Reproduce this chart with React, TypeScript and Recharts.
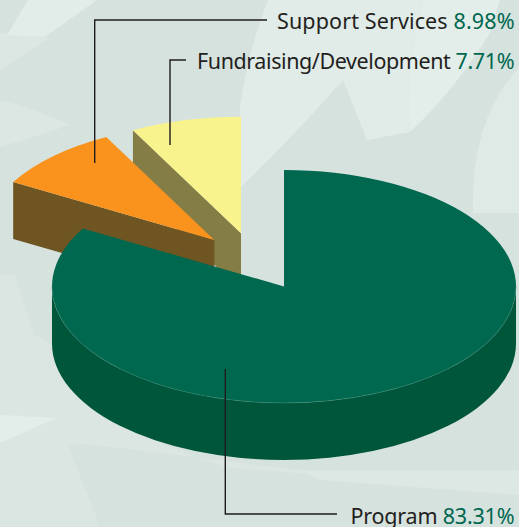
import { PieChart, Pie, Cell } from 'recharts'

const categories = ['Fundraising/Development', 'Support Services', 'Program']
const shares = [7.71, 8.98, 83.31]
const topColors = ['#f9f38e', '#f9931e', '#00684f']
const sideColors = ['#857d46', '#6f5522', '#00563a']
// how far each wedge is pulled out of the pie
const offsets = [[-43, -53.2], [-69.7, -46.5], [0, 0]]

const SQUASH = 0.502
const DEPTH = 57
const RAD = Math.PI / 180

const data = categories.map((name, i) => ({ name, value: shares[i], idx: i }))

function Wedge(props: any) {
  const { cx, cy, outerRadius: r, startAngle, endAngle, payload } = props
  const idx = payload.idx
  const [dx, dy] = offsets[idx]
  const ox = cx + dx
  const oy = cy + dy
  const ry = r * SQUASH
  const pt = (a: number) => [ox + r * Math.cos(a * RAD), oy - ry * Math.sin(a * RAD)]
  const [x0, y0] = pt(startAngle)
  const [x1, y1] = pt(endAngle)
  const large = Math.abs(endAngle - startAngle) > 180 ? 1 : 0
  const top = `M${ox},${oy} L${x0},${y0} A${r},${ry} 0 ${large} 0 ${x1},${y1} Z`

  if (idx === 2) {
    // big slice: front wall from left rim to right rim, with a faint rim line
    const rim = `M${cx - r},${cy} A${r},${ry} 0 0 0 ${cx + r},${cy}`
    const wall = `${rim} L${cx + r},${cy + DEPTH} A${r},${ry} 0 0 1 ${cx - r},${cy + DEPTH} Z`
    return (
      <g>
        <path d={wall} fill={sideColors[idx]} />
        <path d={top} fill={topColors[idx]} />
        <path d={rim} fill="none" stroke="#3f8a72" strokeWidth={0.5} />
      </g>
    )
  }
  // small wedges only show the cut face on their far end
  const face = `M${ox},${oy} L${x1},${y1} L${x1},${y1 + DEPTH} L${ox},${oy + DEPTH} Z`
  return (
    <g>
      <path d={face} fill={sideColors[idx]} />
      <path d={top} fill={topColors[idx]} />
    </g>
  )
}

function Background() {
  return (
    <svg width={519} height={527} style={{ position: 'absolute', left: 0, top: 0 }}>
      <rect width={519} height={527} fill="#d6e2de" />
      <path d="M0,100 Q40,110 70,125 Q40,135 0,147 Z" fill="#dce7e3" />
      <path d="M0,33 L50,38 L0,70 Z" fill="#dce7e3" />
      <path d="M7,35 L28,0 L97,0 L45,37 Z" fill="#e2ece8" />
      <path d="M240,107 Q248,50 268,0 L423,0 Q405,70 410,132 L367,140 L343,80 Q290,140 241,187 Z" fill="#e1ebe7" />
      <path d="M423,0 Q405,70 410,132 Q455,90 490,33 L500,0 Z" fill="#e3ede9" />
      <path d="M473,213 Q470,120 519,67 L519,213 Z" fill="#dfe9e5" />
      <path d="M0,275 L15,275 L35,335 L52,345 Q70,420 230,468 L519,490 L519,440 L519,470 L300,470 L95,445 L67,443 L100,527 L0,527 Z" fill="#dbe6e2" />
      <path d="M0,415 L56,418 L0,443 Z" fill="#e3ede9" />
      <path d="M300,470 L519,470 L519,495 L320,480 Z" fill="#dde8e4" />
    </svg>
  )
}

function Leader({ points }: { points: string }) {
  return <polyline points={points} fill="none" stroke="#1f1c1d" strokeWidth={1.4} />
}

function Callout({ y, name, pct, width }: { y: number; name: string; pct: number; width: number }) {
  return (
    <text
      x={514.5}
      y={y}
      textAnchor="end"
      textLength={width}
      fontFamily="'Noto Sans', sans-serif"
      fontSize={21.5}
      fill="#231f20"
    >
      {name} <tspan fill="#00674f">{pct.toFixed(2)}%</tspan>
    </text>
  )
}

export default function App() {
  return (
    <div style={{ position: 'absolute', left: 0, top: 0, width: 519, height: 527, overflow: 'hidden' }}>
      <Background />
      <div style={{ position: 'absolute', left: 0, top: 0 }}>
        <PieChart width={519} height={527} margin={{ top: 0, right: 0, bottom: 0, left: 0 }}>
          <Pie
            data={data}
            dataKey="value"
            cx={284}
            cy={286.5}
            innerRadius={0}
            outerRadius={232}
            startAngle={90}
            endAngle={450}
            stroke="none"
            shape={Wedge}
            isAnimationActive={false}
          >
            {data.map((d, i) => (
              <Cell key={d.name} fill={topColors[i]} />
            ))}
          </Pie>
        </PieChart>
      </div>
      <svg width={519} height={527} style={{ position: 'absolute', left: 0, top: 0 }}>
        <Leader points="267,20 94.7,20 94.7,163" />
        <Leader points="186,60 170,60 170,145" />
        <Leader points="337,514 225.3,514 225.3,369" />
        <Callout y={29.3} name={categories[1]} pct={shares[1]} width={237.5} />
        <Callout y={69} name={categories[0]} pct={shares[0]} width={317.5} />
        <Callout y={524} name={categories[2]} pct={shares[2]} width={164} />
      </svg>
    </div>
  )
}
